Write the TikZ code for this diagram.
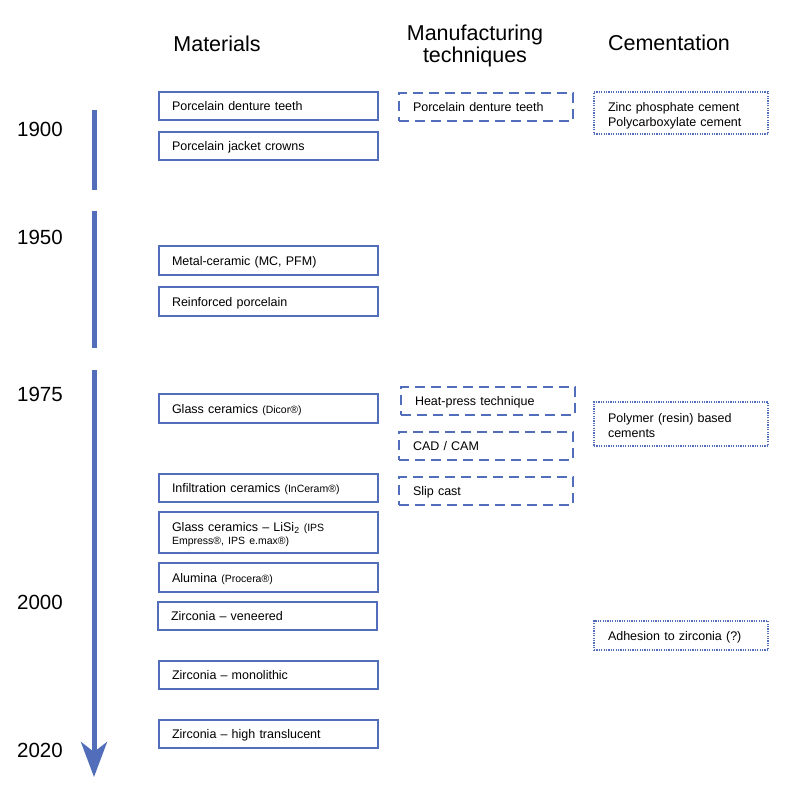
\documentclass[tikz,border=0pt]{standalone}
\usepackage{fontspec}
\setmainfont{Liberation Sans}
\usetikzlibrary{arrows.meta}
\definecolor{tlblue}{RGB}{82,110,187}
\newcommand{\sm}[1]{{\fontsize{10.5}{12}\selectfont #1}}
\begin{document}
\begin{tikzpicture}[x=1pt,y=-1pt,
  base/.style={font=\fontsize{12.5}{15}\selectfont, text=black, anchor=center, align=left, inner ysep=0pt, text depth=0pt},
  matbox/.style={base, draw=tlblue, line width=1.5pt, minimum width=219pt, text width=193pt, inner xsep=13pt, minimum height=28pt},
  manbox/.style={base, draw=tlblue, line width=1.5pt, dash pattern=on 10pt off 6pt, minimum width=174pt, text width=146pt, inner xsep=14pt, minimum height=28pt},
  cembox/.style={base, draw=tlblue, line width=1.4pt, dash pattern=on 1.2pt off 1.2pt, minimum width=174pt, text width=146pt, inner xsep=14pt},
  header/.style={font=\fontsize{21.5}{22}\selectfont, text=black, align=center, inner sep=0pt},
  year/.style={font=\fontsize{20.5}{22}\selectfont, text=black, inner sep=0pt},
  tl/.style={draw=tlblue, line width=5pt}
]
\useasboundingbox (0,0) rectangle (800,785);

% headers
\node[header] (hmat) at (217,44) {Materials};
\node[header] (hman) at (475,46) {Manufacturing\\[0pt]techniques};
\node[header] (hcem) at (669,43) {Cementation};

% years
\node[year] (y1900) at (40,129) {1900};
\node[year] (y1950) at (40,237) {1950};
\node[year] (y1975) at (40,394) {1975};
\node[year] (y2000) at (40,602) {2000};
\node[year] (y2020) at (40,750) {2020};

% timeline
\coordinate (a1) at (94,110);
\coordinate (a2) at (94,190);
\coordinate (b1) at (94,211);
\coordinate (b2) at (94,348);
\coordinate (c1) at (94,370);
\coordinate (c2) at (94,777);
\draw[tl] (a1) -- (a2);
\draw[tl] (b1) -- (b2);
\draw[tl, -{Stealth[length=35pt, width=26pt, inset=10pt]}] (c1) -- (c2);

% materials
\node[matbox] (m1) at (268.5,106) {Porcelain denture teeth};
\node[matbox] (m2) at (268.5,146) {Porcelain jacket crowns};
\node[matbox, minimum height=29pt] (m3) at (268.5,260.5) {Metal-ceramic (MC, PFM)};
\node[matbox, minimum height=29pt] (m4) at (268.5,301.5) {Reinforced porcelain};
\node[matbox, minimum height=29pt] (m5) at (268.5,408.5) {Glass ceramics \sm{(Dicor®)}};
\node[matbox] (m6) at (268.5,488) {Infiltration ceramics \sm{(InCeram®)}};
\node[matbox, minimum height=41pt, text depth=11.2pt] (m7) at (268.5,532.5) {Glass ceramics – LiSi\textsubscript{2} \sm{(IPS}\\[-2pt]\sm{Empress®, IPS e.max®)}};
\node[matbox, minimum height=29pt] (m8) at (268.5,577.5) {Alumina \sm{(Procera®)}};
\node[matbox] (m9) at (267.5,616) {Zirconia – veneered};
\node[matbox] (m10) at (268.5,675) {Zirconia – monolithic};
\node[matbox] (m11) at (268.5,734) {Zirconia – high translucent};

% manufacturing techniques
\node[manbox] (t1) at (486,107) {Porcelain denture teeth};
\node[manbox] (t2) at (488,401) {Heat-press technique};
\node[manbox] (t3) at (486,446) {CAD / CAM};
\node[manbox] (t4) at (486,491) {Slip cast};

% cementation
\node[cembox, minimum height=42pt, text depth=11.6pt] (k1) at (681,113) {Zinc phosphate cement\\Polycarboxylate cement};
\node[cembox, minimum height=44pt, text depth=12pt] (k2) at (681,424) {Polymer (resin) based\\cements};
\node[cembox, minimum height=29pt] (k3) at (681,635.5) {Adhesion to zirconia (?)};
\end{tikzpicture}
\end{document}
